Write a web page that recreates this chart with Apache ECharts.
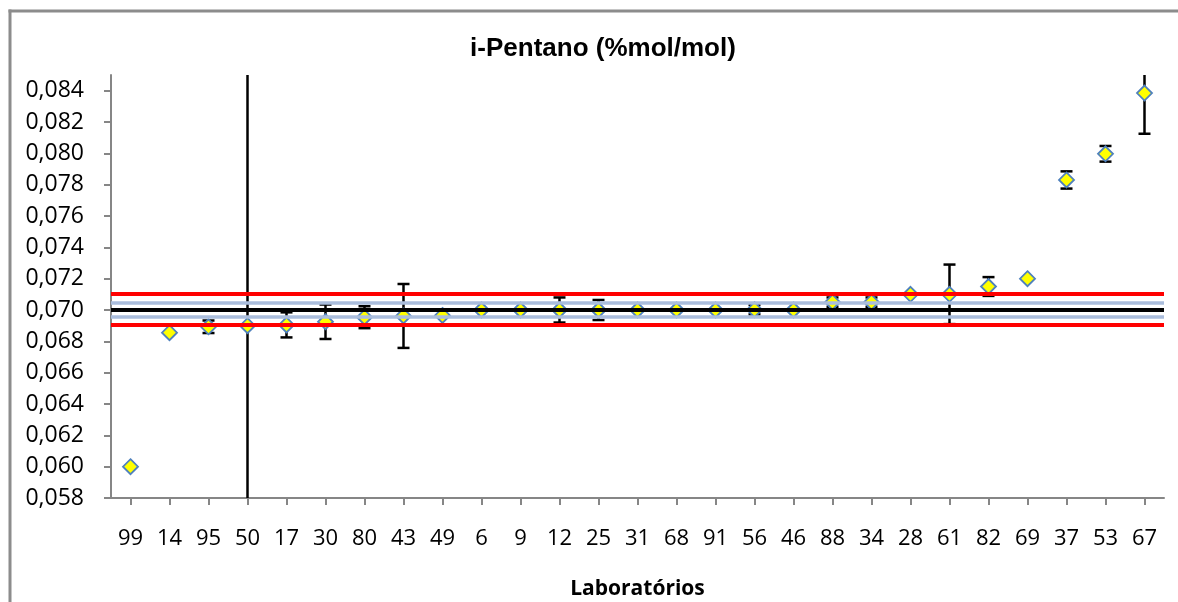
<!DOCTYPE html>
<html>
<head>
<meta charset="utf-8">
<script src="https://cdn.jsdelivr.net/npm/echarts@6/dist/echarts.min.js"></script>
<style>
html,body{margin:0;padding:0;background:#fff;}
#chart{width:1178px;height:602px;}
</style>
</head>
<body>
<div id="chart"></div>
<script>
// ---- data ----
const labs = ['99','14','95','50','17','30','80','43','49','6','9','12','25','31','68','91','56','46','88','34','28','61','82','69','37','53','67'];
const values = [0.0600,0.06855,0.06893,0.06900,0.06905,0.06925,0.06954,0.06962,0.06965,0.0700,0.0700,0.0700,0.0700,0.0700,0.0700,0.0700,0.07002,0.0700,0.0705,0.0705,0.0710,0.0710,0.0715,0.0720,0.07830,0.07997,0.08385];
const errors = [0,0,0.0004,0.03,0.0008,0.0011,0.0007,0.00204,0,0,0,0.0008,0.00064,0,0,0,0.0003,0,0.0003,0.0003,0,0.0019,0.0006,0,0.00055,0.0005,0.0026];
const yTicks = [0.058,0.060,0.062,0.064,0.066,0.068,0.070,0.072,0.074,0.076,0.078,0.080,0.082,0.084];
const refCenter = 0.07003;
const refBand = [0.06957, 0.07049];
const refLimits = [0.06903, 0.07103];
const titleText = 'i-Pentano (%mol/mol)';
const xName = 'Laboratórios';

const chart = echarts.init(document.getElementById('chart'), null, {renderer:'canvas'});
const pts = values.map((v,i)=>[i,v]);
const errData = values.map((v,i)=>[i,v,errors[i]]);
const fmt = v => v.toFixed(3).replace('.', ',');

const option = {
  animation:false,
  backgroundColor:'#ffffff',
  title:{
    text:titleText,
    left:598, top:31, textAlign:'center',
    textStyle:{fontFamily:'Liberation Sans', fontWeight:'bold', fontSize:26, color:'#000'}
  },
  graphic:[
    {type:'line', shape:{x1:10,y1:9.5,x2:10,y2:602}, style:{stroke:'#8c8c8c', lineWidth:3}},
    {type:'line', shape:{x1:8.5,y1:11,x2:1178,y2:11}, style:{stroke:'#8c8c8c', lineWidth:3}}
  ],
  grid:{left:111, right:14, top:75, bottom:104, containLabel:false, outerBoundsMode:'none'},
  xAxis:{
    type:'category',
    data:labs,
    boundaryGap:true,
    name:xName,
    nameLocation:'middle',
    nameGap:81,
    nameTextStyle:{fontFamily:'Open Sans', fontWeight:'bold', fontSize:21, color:'#000'},
    axisLine:{lineStyle:{color:'#868686', width:2}},
    axisTick:{show:true, alignWithLabel:true, length:7, lineStyle:{color:'#868686', width:2}},
    axisLabel:{margin:30, fontFamily:'Open Sans', fontSize:22, color:'#000', interval:0},
    splitLine:{show:false}
  },
  yAxis:{
    type:'value',
    min:0.058, max:0.085, interval:0.002,
    axisLine:{show:true, lineStyle:{color:'#868686', width:2}},
    axisTick:{show:true, length:7, customValues:yTicks, lineStyle:{color:'#868686', width:2}},
    axisLabel:{margin:27, customValues:yTicks, fontFamily:'Open Sans', fontSize:23, color:'#000', formatter:fmt},
    splitLine:{show:false}
  },
  series:[
    {
      type:'custom',
      z:2,
      data:errData,
      renderItem:function(params, api){
        const e = api.value(2);
        if(!e) return {type:'group', children:[]};
        const i = api.value(0), v = api.value(1);
        const cs = params.coordSys;
        const top = cs.y, bot = cs.y + cs.height;
        const pHi = api.coord([i, v+e]);
        const pLo = api.coord([i, v-e]);
        const x = pHi[0];
        let y1 = pHi[1], y2 = pLo[1];
        const ch = [];
        const capHi = y1 >= top, capLo = y2 <= bot;
        y1 = Math.max(y1, top); y2 = Math.min(y2, bot);
        const st = {stroke:'#000', lineWidth:2.5};
        ch.push({type:'line', shape:{x1:x,y1:y1,x2:x,y2:y2}, style:st});
        if(capHi) ch.push({type:'line', shape:{x1:x-6,y1:y1,x2:x+6,y2:y1}, style:st});
        if(capLo) ch.push({type:'line', shape:{x1:x-6,y1:y2,x2:x+6,y2:y2}, style:st});
        return {type:'group', children:ch};
      }
    },
    {
      type:'scatter',
      z:3,
      data:pts,
      symbol:'diamond',
      symbolSize:[15,15],
      itemStyle:{color:'#ffff00', borderColor:'#4f81bd', borderWidth:1.8, opacity:1}
    },
    {
      type:'line',
      z:5,
      data:[],
      markLine:{
        silent:true,
        precision:6,
        symbol:['none','none'],
        label:{show:false},
        animation:false,
        data:[
          {yAxis:refBand[0], lineStyle:{color:'#aabddc', width:3.5, type:'solid'}},
          {yAxis:refBand[1], lineStyle:{color:'#aabddc', width:3.5, type:'solid'}},
          {yAxis:refCenter, lineStyle:{color:'#000000', width:4, type:'solid'}},
          {yAxis:refLimits[0], lineStyle:{color:'#ff0000', width:4, type:'solid'}},
          {yAxis:refLimits[1], lineStyle:{color:'#ff0000', width:4, type:'solid'}}
        ]
      }
    }
  ]
};
chart.setOption(option);
</script>
</body>
</html>
